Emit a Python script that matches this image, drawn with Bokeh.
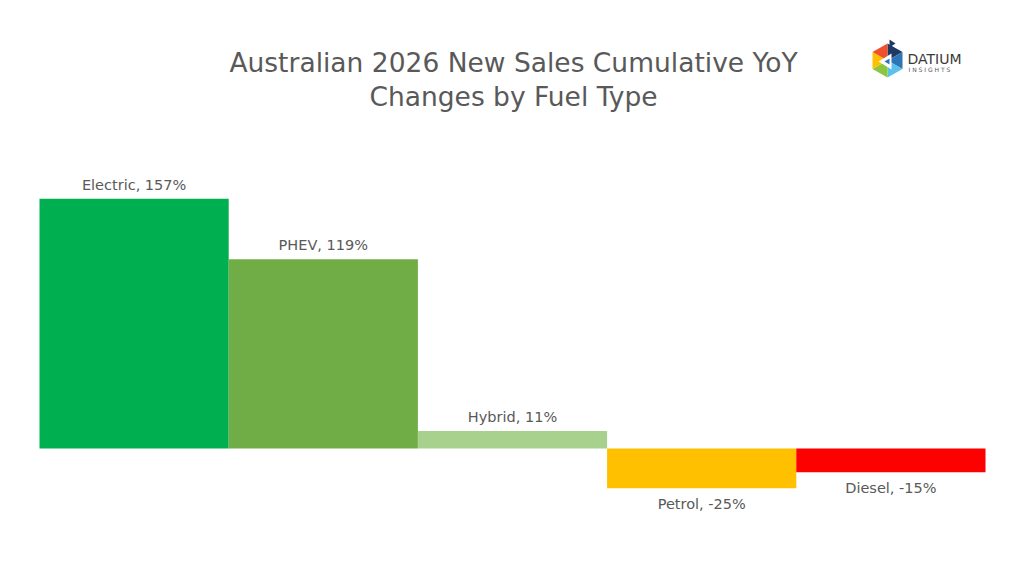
from bokeh.plotting import figure
from bokeh.models import ColumnDataSource, Range1d
from bokeh.core.properties import value
from bokeh.embed import file_html
from bokeh.resources import INLINE

# ---- data ----
categories = ["Electric", "PHEV", "Hybrid", "Petrol", "Diesel"]
changes = [157, 119, 11, -25, -15]
colors = ["#00B050", "#70AD47", "#A9D18E", "#FFC000", "#FF0000"]
title_lines = ["Australian 2026 New Sales Cumulative YoY", "Changes by Fuel Type"]

W, H = 1008, 560
ORG = 0  # page offset of the canvas as rendered
PX_LEFT, PX_RIGHT = 39, 985
ZERO_PY = 448
Y_SCALE = 1.59
X_SCALE = (PX_RIGHT - PX_LEFT) / len(categories)

x_start = -(PX_LEFT - ORG) / X_SCALE
x_end = len(categories) + (ORG + W - PX_RIGHT) / X_SCALE
y_end = (ZERO_PY - ORG) / Y_SCALE
y_start = -(ORG + H - ZERO_PY) / Y_SCALE


def dx(px):
    return x_start + (px - ORG) / X_SCALE


def dy(py):
    return y_end - (py - ORG) / Y_SCALE


p = figure(width=W, height=H, output_backend="svg", toolbar_location=None,
           x_range=Range1d(x_start, x_end), y_range=Range1d(y_start, y_end),
           min_border=0, min_border_left=0, min_border_right=0,
           min_border_top=0, min_border_bottom=0)
p.axis.visible = False
p.grid.visible = False
p.outline_line_color = None
p.background_fill_color = "white"
p.border_fill_color = "white"

xc = [i + 0.5 for i in range(len(categories))]
labels = [f"{c}, {v}%" for c, v in zip(categories, changes)]
src = ColumnDataSource(dict(x=xc, top=changes, color=colors, label=labels))

p.vbar(x="x", width=1.0, bottom=0, top="top", fill_color="color",
       line_color=None, source=src)

pos = ColumnDataSource(dict(x=[x for x, v in zip(xc, changes) if v >= 0],
                            y=[v for v in changes if v >= 0],
                            t=[l for l, v in zip(labels, changes) if v >= 0]))
neg = ColumnDataSource(dict(x=[x for x, v in zip(xc, changes) if v < 0],
                            y=[v for v in changes if v < 0],
                            t=[l for l, v in zip(labels, changes) if v < 0]))
lab_font = value("DejaVu Sans")
p.text(x="x", y="y", text="t", source=pos, text_align="center",
       text_baseline="bottom", y_offset=-6, text_font=lab_font,
       text_font_size="14.5px", text_color="#595959")
p.text(x="x", y="y", text="t", source=neg, text_align="center",
       text_baseline="top", y_offset=8, text_font=lab_font,
       text_font_size="14.5px", text_color="#595959")

# ---- title ----
p.text(x=[dx(513)] * 2, y=[dy(62), dy(96)], text=title_lines,
       text_align="center", text_baseline="middle",
       text_font=value("DejaVu Sans"), text_font_size="26.5px",
       text_color="#595959")

# ---- logo ----
cx, cy, r = 887, 60, 17
hexpts = [(cx, cy - r), (cx + 15, cy - 8.5), (cx + 15, cy + 8.5),
          (cx, cy + r), (cx - 15, cy + 8.5), (cx - 15, cy - 8.5)]
seg_colors = ["#1F3864", "#2E75B6", "#5BC0EB", "#8CC63F", "#FFC000", "#F0502A"]
xs, ys = [], []
for i in range(6):
    a = hexpts[i]
    b = hexpts[(i + 1) % 6]
    xs.append([dx(cx), dx(a[0]), dx(b[0])])
    ys.append([dy(cy), dy(a[1]), dy(b[1])])
p.patches(xs=xs, ys=ys, fill_color=seg_colors, line_color=None)
# white inner shape
p.patch(x=[dx(878), dx(891), dx(891)], y=[dy(61), dy(53), dy(69)],
        fill_color="white", line_color=None)
p.patch(x=[dx(884), dx(889), dx(889)], y=[dy(61), dy(58), dy(64)],
        fill_color="#2E75B6", line_color=None)
p.patch(x=[dx(889), dx(895), dx(889)], y=[dy(39), dy(43), dy(47)],
        fill_color="#1F3864", line_color=None)
p.text(x=[dx(907)], y=[dy(58)], text=["DATIUM"], text_align="left",
       text_baseline="middle", text_font=value("DejaVu Sans"),
       text_font_size="14px", text_color="#3A3A3A")
p.text(x=[dx(908)], y=[dy(69)], text=["I N S I G H T S"], text_align="left",
       text_baseline="middle", text_font=value("DejaVu Sans"),
       text_font_size="6px", text_color="#555555")

open("out.html", "w").write(file_html(p, INLINE))
